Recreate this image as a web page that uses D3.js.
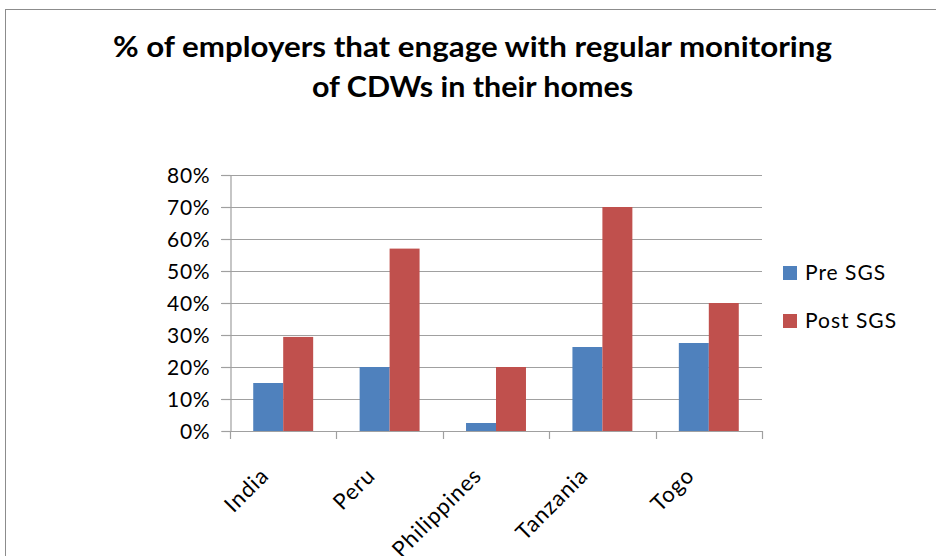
<!DOCTYPE html>
<html>
<head>
<meta charset="utf-8">
<script src="https://cdn.jsdelivr.net/npm/d3@7"></script>
<style>
  html, body { margin: 0; padding: 0; background: #fff; }
  svg { display: block; }
  text { font-family: Lato, "Open Sans", sans-serif; fill: #000; }
</style>
</head>
<body>
<svg id="chart" width="936" height="556"></svg>
<script>
// Chart data
const categories = ["India", "Peru", "Philippines", "Tanzania", "Togo"];
const seriesNames = ["Pre SGS", "Post SGS"];
const preSGS = [0.15, 0.20, 0.025, 0.2625, 0.275];
const postSGS = [0.294, 0.57, 0.20, 0.70, 0.40];
const yTicks = [0, 0.1, 0.2, 0.3, 0.4, 0.5, 0.6, 0.7, 0.8];
const titleLines = ["% of employers that engage with regular monitoring", "of CDWs in their homes"];

const colors = { "Pre SGS": "#4F81BD", "Post SGS": "#C0504D" };
const gridColor = "#a0a0a0";

const svg = d3.select("#chart");

// outer chart frame (runs past the right and bottom edges)
svg.append("rect")
  .attr("x", 5.5).attr("y", 9.5)
  .attr("width", 960).attr("height", 580)
  .attr("fill", "none").attr("stroke", "#8c8c8c").attr("stroke-width", 1);

// plot area
const plot = { left: 230, right: 762, top: 175, bottom: 431 };

const x = d3.scaleBand().domain(categories).range([plot.left, plot.right]);
const bw = x.bandwidth();
const barW = bw / 3.55;
const x1 = d3.scaleBand().domain(seriesNames)
  .range([bw / 2 - barW, bw / 2 + barW]);
const y = d3.scaleLinear().domain([0, 0.8]).range([plot.bottom, plot.top]);

// gridlines with short outward ticks on the value axis
svg.append("g").selectAll("line")
  .data(yTicks.filter(d => d > 0))
  .join("line")
  .attr("x1", plot.left - 9).attr("x2", plot.right)
  .attr("y1", d => Math.round(y(d)) + 0.5).attr("y2", d => Math.round(y(d)) + 0.5)
  .attr("stroke", gridColor).attr("stroke-width", 1.2);

// value axis
const yAxis = d3.axisLeft(y).tickValues(yTicks).tickFormat(d3.format(".0%")).tickSize(9).tickPadding(11);
const gy = svg.append("g").attr("transform", `translate(${plot.left + 0.5},0)`).call(yAxis);
gy.select(".domain").attr("stroke", gridColor).attr("stroke-width", 1.2);
gy.selectAll(".tick line").attr("stroke", gridColor).attr("stroke-width", 1.2);
gy.selectAll(".tick text")
  .style("font-family", "Lato, sans-serif").style("font-size", "21px")
  .style("letter-spacing", "0.8px").attr("fill", "#000").attr("dy", "0.36em");

// bars
const rows = categories.map((c, i) => ({ category: c, values: [
  { series: "Pre SGS", value: preSGS[i] },
  { series: "Post SGS", value: postSGS[i] }
]}));

const groups = svg.append("g").selectAll("g")
  .data(rows).join("g")
  .attr("transform", d => `translate(${x(d.category)},0)`);

groups.selectAll("rect")
  .data(d => d.values).join("rect")
  .attr("x", d => x1(d.series))
  .attr("width", x1.bandwidth())
  .attr("y", d => y(d.value))
  .attr("height", d => y(0) - y(d.value))
  .attr("fill", d => colors[d.series]);

// category axis: line plus boundary ticks
const gx = svg.append("g");
gx.append("line")
  .attr("x1", plot.left).attr("x2", plot.right + 0.5)
  .attr("y1", plot.bottom + 0.5).attr("y2", plot.bottom + 0.5)
  .attr("stroke", gridColor).attr("stroke-width", 1.2);
const boundaries = categories.map(c => x(c)).concat([plot.right]);
gx.selectAll("line.tk").data(boundaries).join("line")
  .attr("class", "tk")
  .attr("x1", d => Math.round(d) + 0.5).attr("x2", d => Math.round(d) + 0.5)
  .attr("y1", plot.bottom).attr("y2", plot.bottom + 8)
  .attr("stroke", gridColor).attr("stroke-width", 1.2);

// rotated category labels
gx.selectAll("text").data(categories).join("text")
  .attr("transform", d => `translate(${x(d) + bw / 2 - 13},${plot.bottom + 46}) rotate(-45)`)
  .attr("text-anchor", "end")
  .style("font-size", "22px")
  .style("letter-spacing", "1px")
  .text(d => d);

// legend
const legend = svg.append("g").selectAll("g")
  .data(seriesNames).join("g")
  .attr("transform", (d, i) => `translate(783,${266 + i * 48})`);
legend.append("rect")
  .attr("width", 14).attr("height", 14)
  .attr("fill", d => colors[d]);
legend.append("text")
  .attr("x", 22).attr("y", 14)
  .style("font-size", "21px")
  .style("letter-spacing", "1px")
  .text(d => d);

// title
const titleWidths = [719, 321];
svg.append("g").selectAll("text")
  .data(titleLines).join("text")
  .attr("x", 472.5)
  .attr("y", (d, i) => 57 + i * 40)
  .attr("text-anchor", "middle")
  .attr("textLength", (d, i) => titleWidths[i])
  .attr("lengthAdjust", "spacingAndGlyphs")
  .style("font-size", "29px")
  .style("font-weight", "bold")
  .text(d => d);
</script>
</body>
</html>
